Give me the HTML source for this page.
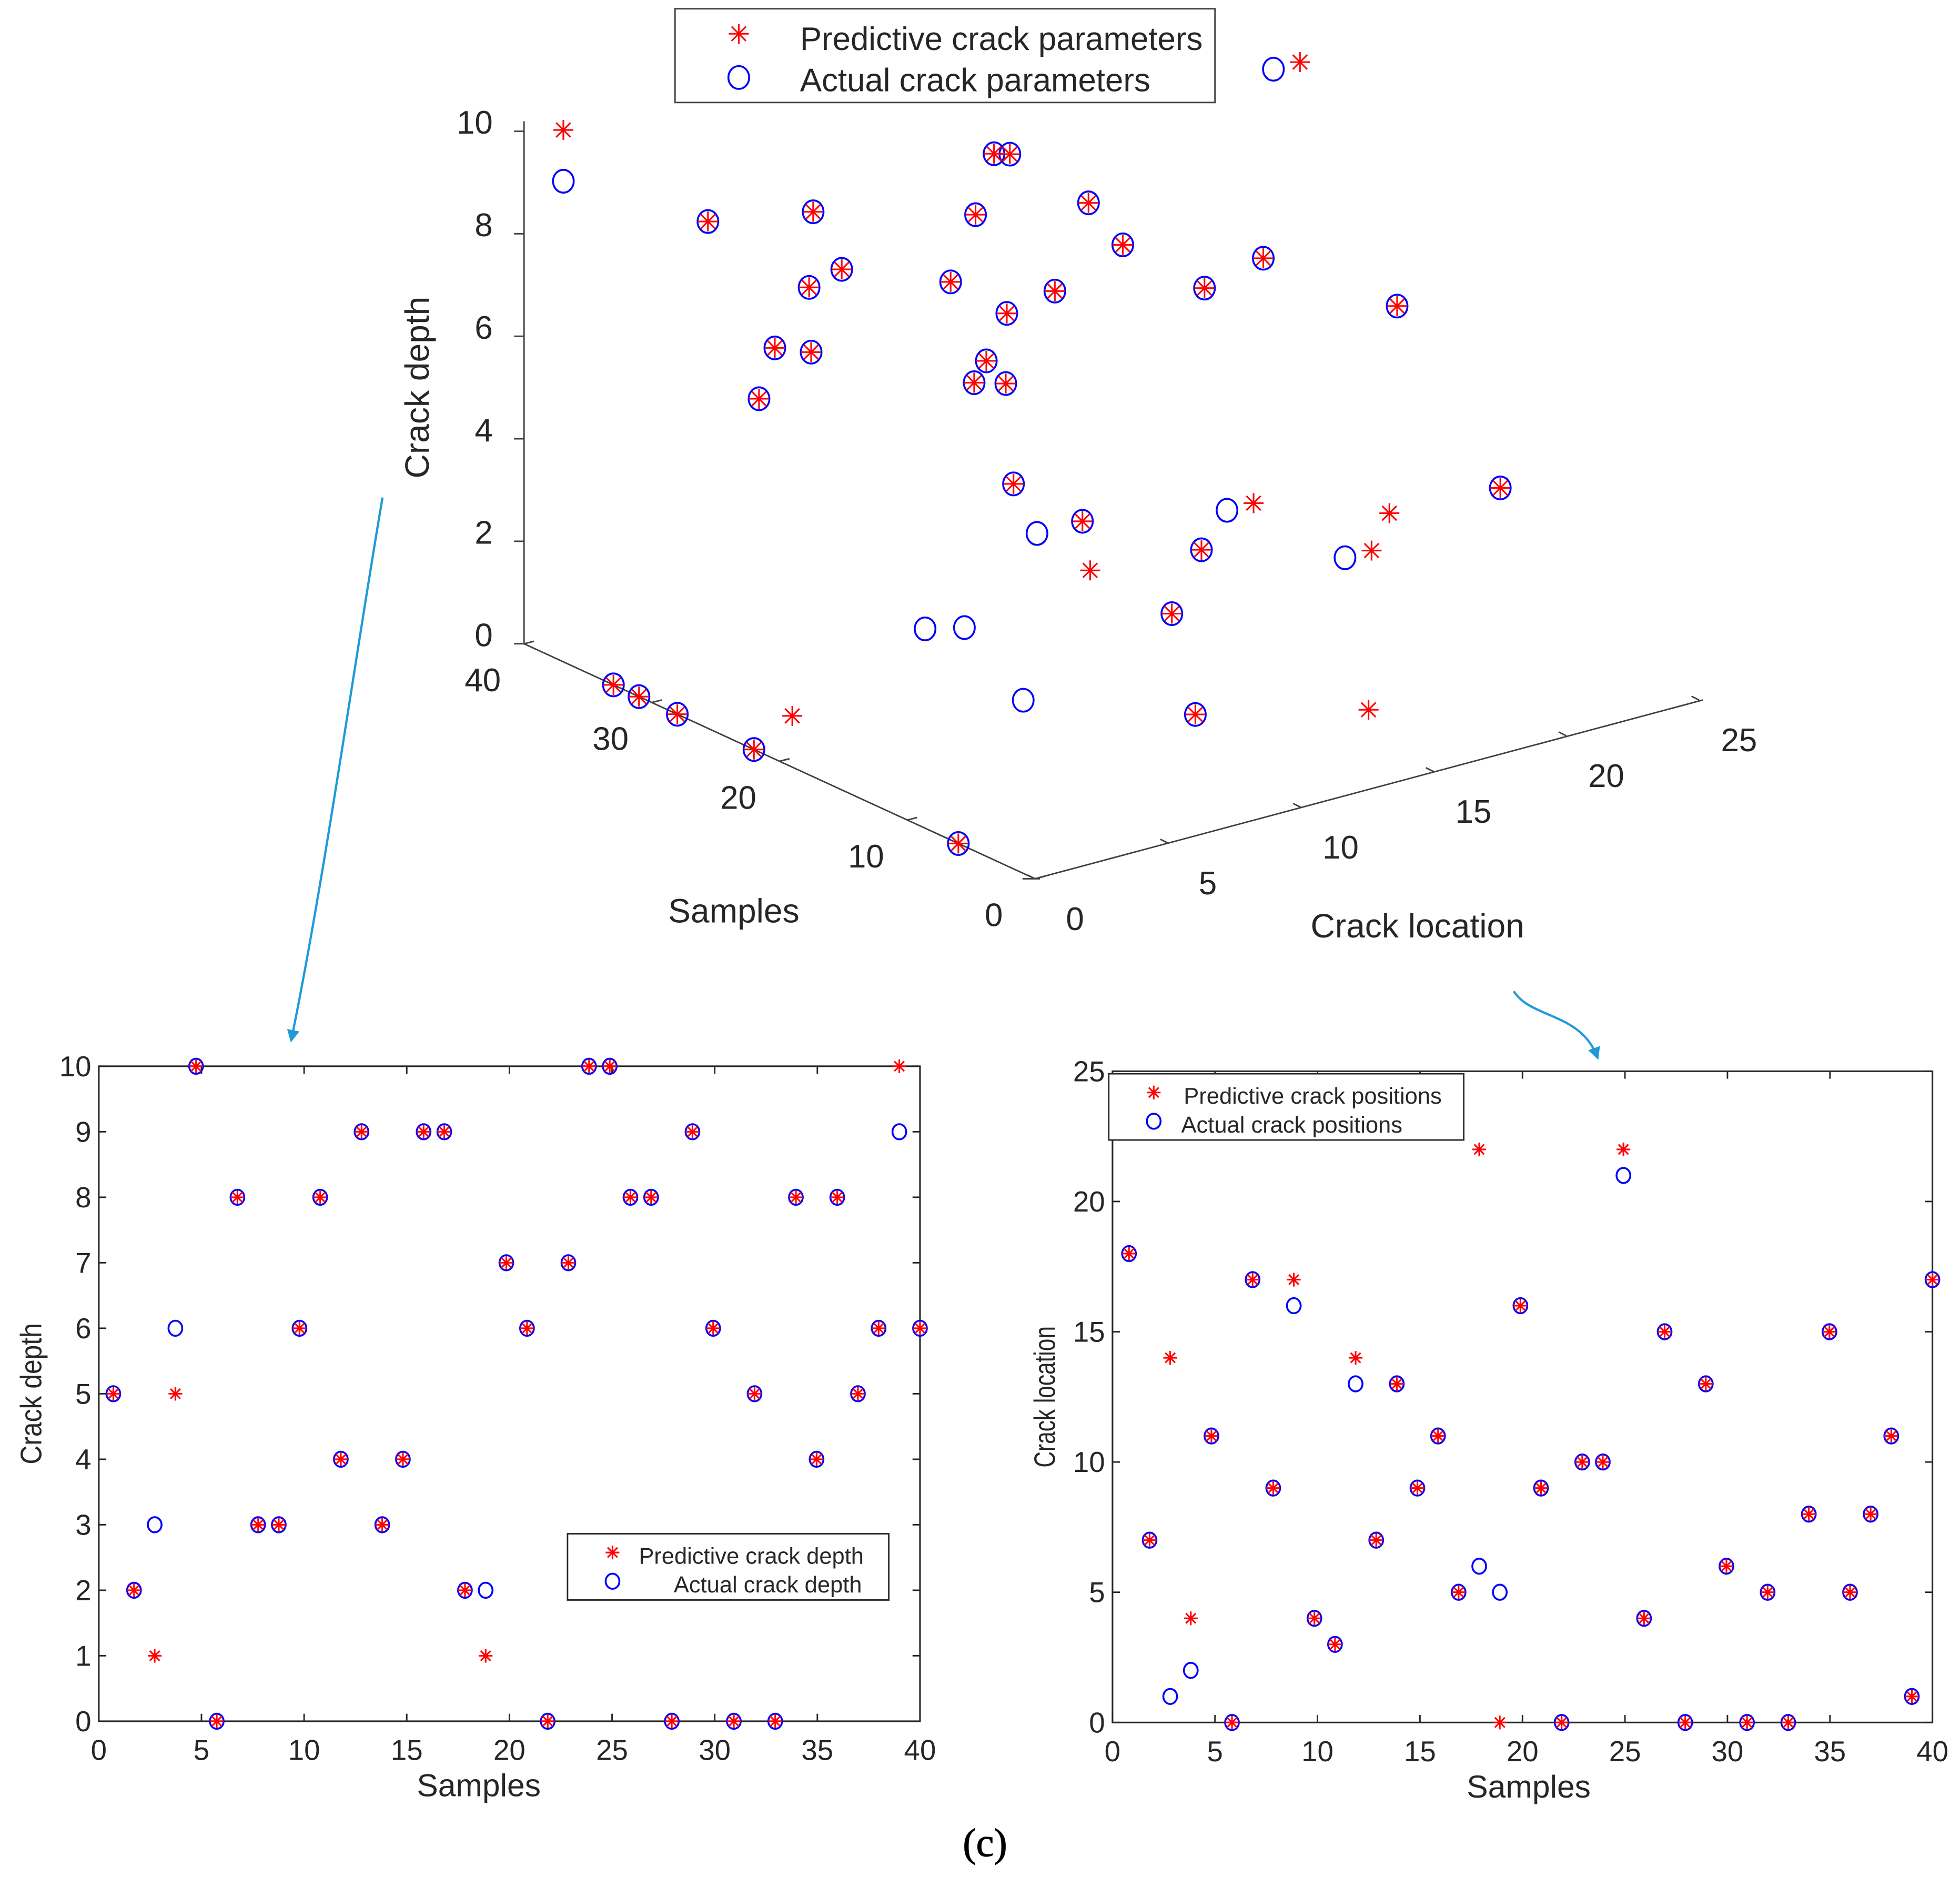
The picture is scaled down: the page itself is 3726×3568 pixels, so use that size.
<!DOCTYPE html>
<html><head><meta charset="utf-8"><style>html,body{margin:0;padding:0;background:#fff}svg{display:block}text{font-family:"Liberation Sans",sans-serif;fill:#262626}</style></head>
<body>
<svg id="s" width="3726" height="3568" viewBox="0 0 1568 1501.6" xmlns="http://www.w3.org/2000/svg">
<defs><marker id="ah" markerWidth="10" markerHeight="10" refX="8" refY="5" orient="auto" markerUnits="userSpaceOnUse"><path d="M0,0 L10,5 L0,10 Z" fill="#1f9ad6"/></marker></defs>
<g id="g3d"></g>
<g id="gL"></g>
<g id="gR"></g>
<path d="M306,398 C285,520 260,700 233,832" stroke="#1f9ad6" stroke-width="1.8" fill="none" marker-end="url(#ah)"/>
<path d="M1211,793 C1225,815 1265,810 1278,846" stroke="#1f9ad6" stroke-width="1.8" fill="none" marker-end="url(#ah)"/>
<text x="788" y="1485" text-anchor="middle" style="font-family:'Liberation Serif',serif;font-size:32px;fill:#000;stroke:#000;stroke-width:0.5">(c)</text>
</svg>
<script>
const samples = Array.from({length:40},(_,i)=>i+1);
const depthActual = [5,2,3,6,10,0,8,3,3,6,8,4,9,3,4,9,9,2,2,7,6,0,7,10,10,8,8,0,9,6,0,5,0,8,4,8,5,6,9,6];
const depthPred   = [5,2,1,5,10,0,8,3,3,6,8,4,9,3,4,9,9,2,1,7,6,0,7,10,10,8,8,0,9,6,0,5,0,8,4,8,5,6,10,6];
const locActual = [18,7,1,2,11,0,17,9,16,4,3,13,7,13,9,11,5,6,5,16,9,0,10,10,21,4,15,0,13,6,0,5,0,8,15,5,8,11,1,17];
const locPred   = [18,7,14,4,11,0,17,9,17,4,3,14,7,13,9,11,5,22,0,16,9,0,10,10,22,4,15,0,13,6,0,5,0,8,15,5,8,11,1,17];
const xTicks = [0,5,10,15,20,25,30,35,40];
const depthTicks = [0,1,2,3,4,5,6,7,8,9,10];
const locTicks = [0,5,10,15,20,25];
const NS="http://www.w3.org/2000/svg";
function el(p,t,a){const e=document.createElementNS(NS,t);for(const k in a)e.setAttribute(k,a[k]);p.appendChild(e);return e;}
function star(p,x,y,r){const g=el(p,'g',{stroke:'#ff0000','stroke-width':1.3});


const d=r*0.72;el(g,'line',{x1:x-r,y1:y,x2:x+r,y2:y});el(g,'line',{x1:x,y1:y-r,x2:x,y2:y+r});
el(g,'line',{x1:x-d,y1:y-d,x2:x+d,y2:y+d});el(g,'line',{x1:x-d,y1:y+d,x2:x+d,y2:y-d});return g;}
function circ(p,x,y,r){const c=el(p,'ellipse',{cx:x,cy:y,rx:r,ry:r*1.1,fill:'none',stroke:'#0000ff','stroke-width':1.5});

return c;}
function txt(p,x,y,s,size,anchor,name){const t=el(p,'text',{x:x,y:y,'font-size':size,'text-anchor':anchor||'middle'});t.textContent=s;

return t;}

function plot2d(g,L,T,R,B,ymax,yTicks,act,pred,ylab,leg,off,titleX){
  const X=v=>L+(R-L)*v/40, Y=v=>B-(B-T)*v/ymax;
  const XP=s=>X(s-off+off*s/40);
  const box=el(g,'rect',{x:L,y:T,width:R-L,height:B-T,fill:'none',stroke:'#262626','stroke-width':1.3});
  
  
  xTicks.forEach(v=>{el(g,'line',{x1:X(v),y1:B,x2:X(v),y2:B-6,stroke:'#262626','stroke-width':1.2});el(g,'line',{x1:X(v),y1:T,x2:X(v),y2:T+6,stroke:'#262626','stroke-width':1.2});
    txt(g,X(v),B+31,String(v),23,'middle','x-tick-label');});
  yTicks.forEach(v=>{el(g,'line',{x1:L,y1:Y(v),x2:L+6,y2:Y(v),stroke:'#262626','stroke-width':1.2});el(g,'line',{x1:R,y1:Y(v),x2:R-6,y2:Y(v),stroke:'#262626','stroke-width':1.2});
    txt(g,L-6,Y(v)+8,String(v),23,'end','y-tick-label');});
  txt(g,titleX,B+60,'Samples',25.5,'middle','x-axis-title');
  const yl=txt(g,0,0,ylab,24,'middle','y-axis-title');yl.setAttribute('transform',`translate(${L-46},${(T+B)/2}) rotate(-90)`);yl.setAttribute('textLength',113);yl.setAttribute('lengthAdjust','spacingAndGlyphs');
  samples.forEach((s,i)=>{circ(g,XP(s),Y(act[i]),5.5);});
  samples.forEach((s,i)=>{star(g,XP(s),Y(pred[i]),5.5);});
  const lg=el(g,'g',{});
  el(lg,'rect',{x:leg.x,y:leg.y,width:leg.w,height:53,fill:'#fff',stroke:'#262626','stroke-width':1.2});
  star(lg,leg.x+36,leg.y+15,5.5);circ(lg,leg.x+36,leg.y+38,5.5);
  txt(lg,leg.tx1,leg.y+24,leg.t1,18.3,'start','legend-entry-predicted');
  txt(lg,leg.tx2,leg.y+47,leg.t2,18.3,'start','legend-entry-actual');
}
plot2d(document.getElementById('gL'),79,853,736,1377,10,depthTicks,depthActual,depthPred,'Crack depth',
 {x:454,y:1227,w:257,tx1:511,tx2:539,t1:'Predictive crack depth',t2:'Actual crack depth'},0.3,383);
plot2d(document.getElementById('gR'),890,857,1546,1378,25,locTicks,locActual,locPred,'Crack location',
 {x:887,y:859,w:284,tx1:947,tx2:945,t1:'Predictive crack positions',t2:'Actual crack positions'},0.2,1223);

// 3D plot
const g3=document.getElementById('g3d');
const O={x:828,y:703};
function P(s,l,d){return {x:O.x-10.22*s+21.25*l, y:O.y-4.7*s-5.72*l-41.0*d};}
const ax='#404040';
let a=P(40,0,0),b=P(40,0,10);el(g3,'line',{x1:a.x,y1:a.y,x2:b.x,y2:b.y-8,stroke:ax,'stroke-width':1.2});
let c=P(0,0,0);el(g3,'line',{x1:a.x,y1:a.y,x2:c.x,y2:c.y,stroke:ax,'stroke-width':1.2});
let e=P(0,25,0);el(g3,'line',{x1:c.x,y1:c.y,x2:e.x+3,y2:e.y,stroke:ax,'stroke-width':1.2});
el(g3,'line',{x1:c.x-10,y1:c.y,x2:c.x+4,y2:c.y,stroke:ax,'stroke-width':1.2});
depthTicks.filter(v=>v%2==0).forEach(v=>{const p=P(40,0,v);el(g3,'line',{x1:p.x,y1:p.y,x2:p.x-8,y2:p.y,stroke:ax,'stroke-width':1.2});
  txt(g3,p.x-25,p.y+2,String(v),26,'end','z-tick-label');});
[0,10,20,30,40].forEach(v=>{const p=P(v,0,0);el(g3,'line',{x1:p.x,y1:p.y,x2:p.x+8,y2:p.y-2,stroke:ax,'stroke-width':1.2});
  txt(g3,p.x-33,p.y+38,String(v),26,'middle','samples-tick-label');});
locTicks.forEach(v=>{const p=P(0,v,0);el(g3,'line',{x1:p.x,y1:p.y,x2:p.x-6,y2:p.y-3,stroke:ax,'stroke-width':1.2});
  txt(g3,p.x+32,p.y+41,String(v),26,'middle','location-tick-label');});
txt(g3,587,738,'Samples',27,'middle','samples-axis-title');
txt(g3,1134,750,'Crack location',27,'middle','location-axis-title');
const zt=txt(g3,0,0,'Crack depth',27,'middle','depth-axis-title');zt.setAttribute('transform','translate(343,310) rotate(-90)');
samples.forEach((s,i)=>{const p=P(s,locActual[i],depthActual[i]);circ(g3,p.x,p.y,8.3);});
samples.forEach((s,i)=>{const p=P(s,locPred[i],depthPred[i]);star(g3,p.x,p.y,8);});
const lg3=el(g3,'g',{});
el(lg3,'rect',{x:540,y:7,width:432,height:75,fill:'#fff',stroke:'#404040','stroke-width':1.2});
star(lg3,591,27,8);circ(lg3,591,62,8.3);
txt(lg3,640,40,'Predictive crack parameters',26,'start','legend-entry-predicted');
txt(lg3,640,73,'Actual crack parameters',26,'start','legend-entry-actual');
</script>
</body></html>
